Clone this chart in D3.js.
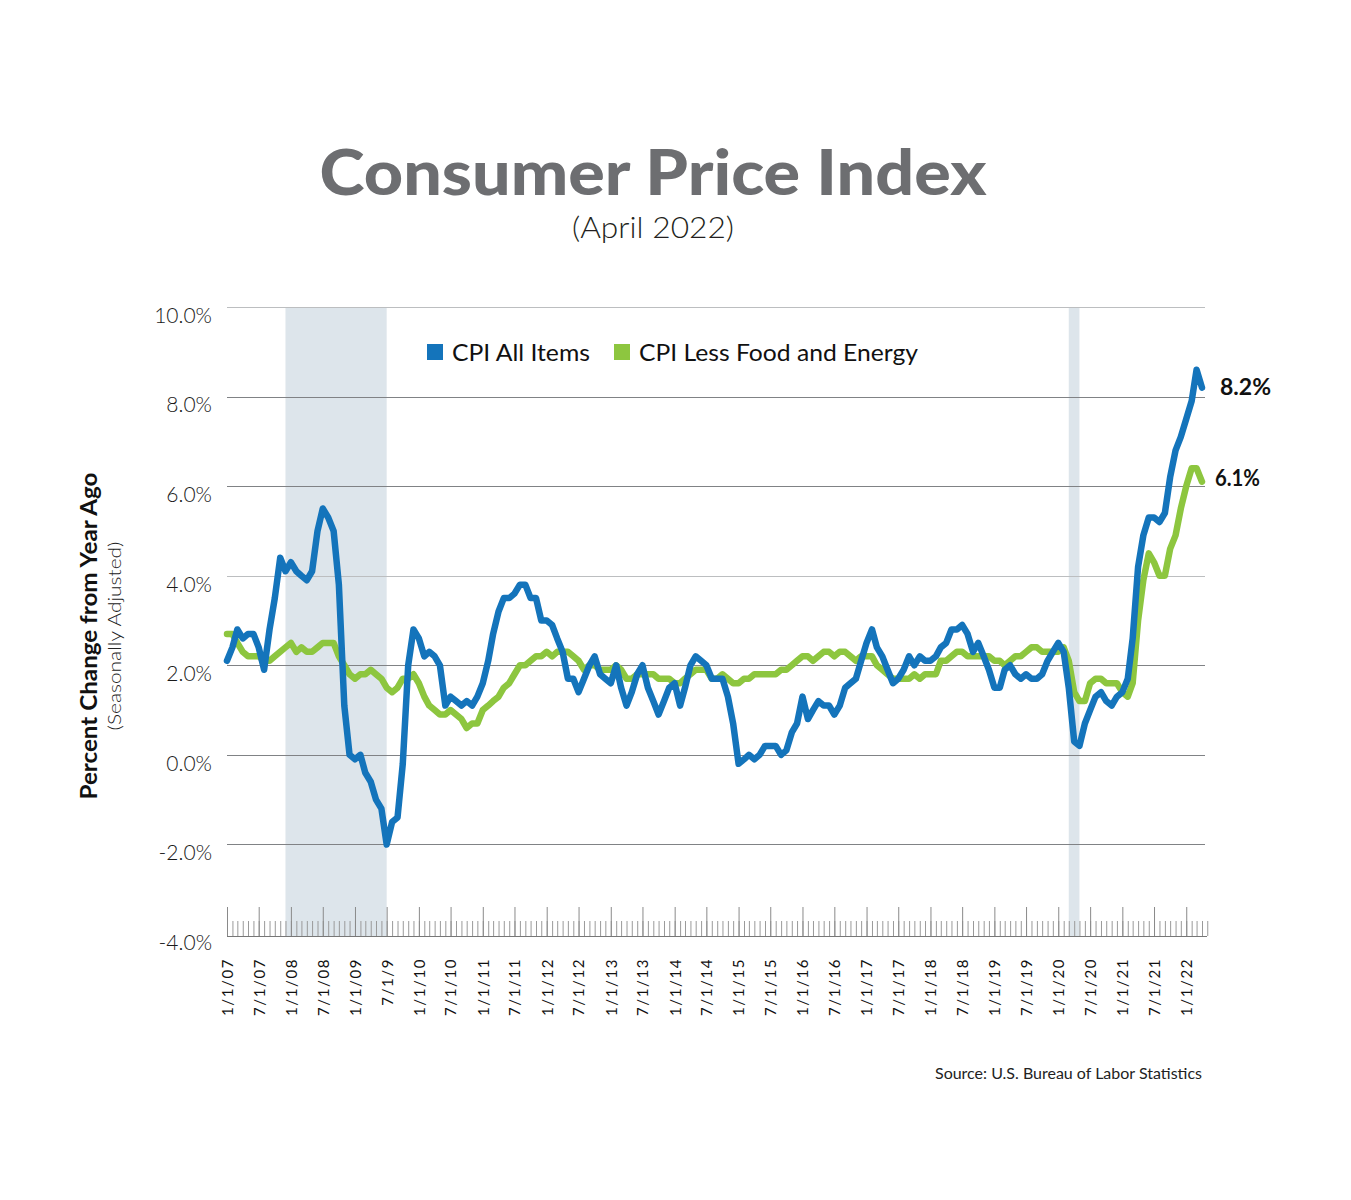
<!DOCTYPE html>
<html>
<head>
<meta charset="utf-8">
<script src="https://cdn.jsdelivr.net/npm/d3@7"></script>
<style>
  body { margin: 0; background: #fff; }
  svg { display: block; }
</style>
</head>
<body>
<svg id="chart" width="1351" height="1200"></svg>
<script>
// ---------- DATA ----------
const firstMonth = "2007-01-01";

// CPI All Items, % change from year ago (monthly, Jan 2007 - Apr 2022)
const cpiAllItems = [
  2.1, 2.4, 2.8, 2.6, 2.7, 2.7, 2.4, 1.9, 2.8, 3.5, 4.4, 4.1, // 2007
  4.3, 4.1, 4.0, 3.9, 4.1, 5.0, 5.5, 5.3, 5.0, 3.8, 1.1, 0.0, // 2008
  -0.1, 0.0, -0.4, -0.6, -1.0, -1.2, -2.0, -1.5, -1.4, -0.2, 2.0, 2.8, // 2009
  2.6, 2.2, 2.3, 2.2, 2.0, 1.1, 1.3, 1.2, 1.1, 1.2, 1.1, 1.3, // 2010
  1.6, 2.1, 2.7, 3.2, 3.5, 3.5, 3.6, 3.8, 3.8, 3.5, 3.5, 3.0, // 2011
  3.0, 2.9, 2.6, 2.3, 1.7, 1.7, 1.4, 1.7, 2.0, 2.2, 1.8, 1.7, // 2012
  1.6, 2.0, 1.5, 1.1, 1.4, 1.8, 2.0, 1.5, 1.2, 0.9, 1.2, 1.5, // 2013
  1.6, 1.1, 1.5, 2.0, 2.2, 2.1, 2.0, 1.7, 1.7, 1.7, 1.3, 0.7, // 2014
  -0.2, -0.1, 0.0, -0.1, 0.0, 0.2, 0.2, 0.2, 0.0, 0.1, 0.5, 0.7, // 2015
  1.3, 0.8, 1.0, 1.2, 1.1, 1.1, 0.9, 1.1, 1.5, 1.6, 1.7, 2.1, // 2016
  2.5, 2.8, 2.4, 2.2, 1.9, 1.6, 1.7, 1.9, 2.2, 2.0, 2.2, 2.1, // 2017
  2.1, 2.2, 2.4, 2.5, 2.8, 2.8, 2.9, 2.7, 2.3, 2.5, 2.2, 1.9, // 2018
  1.5, 1.5, 1.9, 2.0, 1.8, 1.7, 1.8, 1.7, 1.7, 1.8, 2.1, 2.3, // 2019
  2.5, 2.3, 1.5, 0.3, 0.2, 0.7, 1.0, 1.3, 1.4, 1.2, 1.1, 1.3, // 2020
  1.4, 1.7, 2.6, 4.2, 4.9, 5.3, 5.3, 5.2, 5.4, 6.2, 6.8, 7.1, // 2021
  7.5, 7.9, 8.6, 8.2                                          // 2022
];

// CPI Less Food and Energy, % change from year ago
const cpiCore = [
  2.7, 2.7, 2.5, 2.3, 2.2, 2.2, 2.2, 2.1, 2.1, 2.2, 2.3, 2.4, // 2007
  2.5, 2.3, 2.4, 2.3, 2.3, 2.4, 2.5, 2.5, 2.5, 2.2, 2.0, 1.8, // 2008
  1.7, 1.8, 1.8, 1.9, 1.8, 1.7, 1.5, 1.4, 1.5, 1.7, 1.7, 1.8, // 2009
  1.6, 1.3, 1.1, 1.0, 0.9, 0.9, 1.0, 0.9, 0.8, 0.6, 0.7, 0.7, // 2010
  1.0, 1.1, 1.2, 1.3, 1.5, 1.6, 1.8, 2.0, 2.0, 2.1, 2.2, 2.2, // 2011
  2.3, 2.2, 2.3, 2.3, 2.3, 2.2, 2.1, 1.9, 2.0, 2.0, 1.9, 1.9, // 2012
  1.9, 2.0, 1.9, 1.7, 1.7, 1.8, 1.8, 1.8, 1.8, 1.7, 1.7, 1.7, // 2013
  1.6, 1.6, 1.7, 1.8, 1.9, 1.9, 1.9, 1.7, 1.7, 1.8, 1.7, 1.6, // 2014
  1.6, 1.7, 1.7, 1.8, 1.8, 1.8, 1.8, 1.8, 1.9, 1.9, 2.0, 2.1, // 2015
  2.2, 2.2, 2.1, 2.2, 2.3, 2.3, 2.2, 2.3, 2.3, 2.2, 2.1, 2.2, // 2016
  2.2, 2.2, 2.0, 1.9, 1.8, 1.7, 1.7, 1.7, 1.7, 1.8, 1.7, 1.8, // 2017
  1.8, 1.8, 2.1, 2.1, 2.2, 2.3, 2.3, 2.2, 2.2, 2.2, 2.2, 2.2, // 2018
  2.1, 2.1, 2.0, 2.1, 2.2, 2.2, 2.3, 2.4, 2.4, 2.3, 2.3, 2.3, // 2019
  2.3, 2.4, 2.1, 1.4, 1.2, 1.2, 1.6, 1.7, 1.7, 1.6, 1.6, 1.6, // 2020
  1.4, 1.3, 1.6, 3.0, 3.9, 4.5, 4.3, 4.0, 4.0, 4.6, 4.9, 5.5, // 2021
  6.0, 6.4, 6.4, 6.1                                          // 2022
];

const seriesNames = ["CPI All Items", "CPI Less Food and Energy"];
const endLabels = ["8.2%", "6.1%"];

const yTicks = [-4, -2, 0, 2, 4, 6, 8, 10];

// tick labels every six months starting 1/1/07
const xTickLabels = [
  "1/1/07", "7/1/07", "1/1/08", "7/1/08", "1/1/09", "7/1/9",
  "1/1/10", "7/1/10", "1/1/11", "7/1/11", "1/1/12", "7/1/12",
  "1/1/13", "7/1/13", "1/1/14", "7/1/14", "1/1/15", "7/1/15",
  "1/1/16", "7/1/16", "1/1/17", "7/1/17", "1/1/18", "7/1/18",
  "1/1/19", "7/1/19", "1/1/20", "7/1/20", "1/1/21", "7/1/21", "1/1/22"
];

// recession periods (shaded)
const recessionStarts = ["2007-12-01", "2020-03-01"];
const recessionEnds   = ["2009-07-01", "2020-05-01"];

const titleText = "Consumer Price Index";
const subtitleText = "(April 2022)";
const yTitle = "Percent Change from Year Ago";
const ySubTitle = "(Seasonally Adjusted)";
const sourceText = "Source: U.S. Bureau of Labor Statistics";

// ---------- DRAW ----------
const svg = d3.select("#chart");
const BLUE = "#1474bb";
const GREEN = "#8dc63f";
const fontMain = "'Lato', 'Open Sans', sans-serif";

const parse = d3.utcParse("%Y-%m-%d");
const start = parse(firstMonth);
const monthDate = i => d3.utcMonth.offset(start, i);
const lastDate = monthDate(cpiAllItems.length - 1);

const x = d3.scaleUtc().domain([start, lastDate]).range([227, 1202]);
const y = d3.scaleLinear().domain([-4, 10]).range([934, 307]);

const plotLeft = 227, plotRight = 1206, axisY = 936;

// Recession shading
svg.append("g").selectAll("rect")
  .data(recessionStarts.map((s, i) => [parse(s), parse(recessionEnds[i])]))
  .join("rect")
  .attr("x", d => x(d[0]))
  .attr("width", d => x(d[1]) - x(d[0]))
  .attr("y", y(10))
  .attr("height", axisY - y(10))
  .attr("fill", "#dde5eb");

// Gridlines
svg.append("g").selectAll("line")
  .data(yTicks.filter(t => t > -4))
  .join("line")
  .attr("x1", plotLeft).attr("x2", plotRight - 1)
  .attr("y1", d => Math.round(y(d)) + 0.5).attr("y2", d => Math.round(y(d)) + 0.5)
  .attr("stroke", d => (d === 10 || d === 4) ? "#bcbec0" : "#808285")
  .attr("stroke-width", 1);

// Y axis labels
const yAxis = d3.axisLeft(y).tickValues(yTicks)
  .tickFormat(d => d.toFixed(1) + "%").tickSize(0).tickPadding(0);
const yg = svg.append("g").attr("transform", "translate(212,0)").call(yAxis);
yg.select(".domain").remove();
yg.selectAll("text")
  .attr("dy", "0.35em")
  .attr("y", 8)
  .attr("font-family", fontMain)
  .attr("font-weight", 300)
  .attr("font-size", 21)
  .attr("fill", "#1a1a1a");

// X axis - monthly minor ticks
const months = d3.range(0, cpiAllItems.length + 1).map(monthDate);
const minorAxis = d3.axisBottom(x).tickValues(months).tickFormat("")
  .tickSizeInner(-15).tickSizeOuter(0);
const mg = svg.append("g").attr("transform", `translate(0,${axisY})`).call(minorAxis);
mg.select(".domain").remove();
mg.selectAll(".tick line").attr("stroke", "#9a9a9a").attr("stroke-width", 1);

// X axis - six-month major ticks with labels
const majors = xTickLabels.map((_, i) => monthDate(i * 6));
const majorAxis = d3.axisBottom(x).tickValues(majors)
  .tickFormat((d, i) => xTickLabels[i])
  .tickSizeInner(-29).tickSizeOuter(0);
const xg = svg.append("g").attr("transform", `translate(0,${axisY})`).call(majorAxis);
xg.select(".domain").remove();
xg.selectAll(".tick line").attr("stroke", "#8a8a8a").attr("stroke-width", 1);
xg.selectAll(".tick text")
  .attr("transform", "rotate(-90)")
  .attr("text-anchor", "end")
  .attr("x", -22)
  .attr("y", 0)
  .attr("dy", "0.36em")
  .attr("font-family", fontMain)
  .attr("font-size", 15)
  .attr("letter-spacing", 1.6)
  .attr("fill", "#111");

// baseline
svg.append("line")
  .attr("x1", plotLeft).attr("x2", plotRight + 1)
  .attr("y1", axisY + 0.5).attr("y2", axisY + 0.5)
  .attr("stroke", "#777").attr("stroke-width", 1);

// Lines
const line = d3.line()
  .x((d, i) => x(monthDate(i)))
  .y(d => y(d));

svg.append("path").datum(cpiCore)
  .attr("d", line).attr("fill", "none")
  .attr("stroke", GREEN).attr("stroke-width", 6.5)
  .attr("stroke-linejoin", "round").attr("stroke-linecap", "round");

svg.append("path").datum(cpiAllItems)
  .attr("d", line).attr("fill", "none")
  .attr("stroke", BLUE).attr("stroke-width", 6.5)
  .attr("stroke-linejoin", "round").attr("stroke-linecap", "round");

// End labels
svg.append("text").attr("x", 1220).attr("y", 395)
  .attr("font-family", fontMain).attr("font-weight", 700).attr("font-size", 23)
  .attr("fill", "#111").attr("textLength", 51).attr("lengthAdjust", "spacingAndGlyphs")
  .text(endLabels[0]);
svg.append("text").attr("x", 1215).attr("y", 486)
  .attr("font-family", fontMain).attr("font-weight", 700).attr("font-size", 23)
  .attr("fill", "#111").attr("textLength", 45).attr("lengthAdjust", "spacingAndGlyphs")
  .text(endLabels[1]);

// Legend
const legendX = [427, 614];
const legendTextLen = [138, 279];
const legendColors = [BLUE, GREEN];
const lg = svg.append("g");
seriesNames.forEach((name, i) => {
  lg.append("rect").attr("x", legendX[i]).attr("y", 344).attr("width", 16).attr("height", 16)
    .attr("fill", legendColors[i]);
  lg.append("text").attr("x", legendX[i] + 25).attr("y", 361)
    .attr("font-family", fontMain).attr("font-size", 23).attr("fill", "#111")
    .attr("textLength", legendTextLen[i]).attr("lengthAdjust", "spacingAndGlyphs")
    .text(name);
});

// Title
svg.append("text").attr("x", 653).attr("y", 195)
  .attr("text-anchor", "middle")
  .attr("font-family", "'Lato', sans-serif").attr("font-weight", 900)
  .attr("font-size", 63).attr("fill", "#6d6e71")
  .attr("textLength", 667).attr("lengthAdjust", "spacingAndGlyphs")
  .text(titleText);

svg.append("text").attr("x", 653).attr("y", 238)
  .attr("text-anchor", "middle")
  .attr("font-family", fontMain).attr("font-weight", 300)
  .attr("font-size", 30).attr("fill", "#231f20")
  .attr("textLength", 162).attr("lengthAdjust", "spacingAndGlyphs")
  .text(subtitleText);

// Y title
svg.append("text").attr("transform", "translate(97,636) rotate(-90)")
  .attr("text-anchor", "middle")
  .attr("font-family", fontMain).attr("font-weight", 700)
  .attr("font-size", 23).attr("fill", "#111")
  .attr("textLength", 327).attr("lengthAdjust", "spacingAndGlyphs")
  .text(yTitle);
svg.append("text").attr("transform", "translate(121,636) rotate(-90)")
  .attr("text-anchor", "middle")
  .attr("font-family", fontMain).attr("font-weight", 300)
  .attr("font-size", 18).attr("fill", "#222")
  .attr("textLength", 189).attr("lengthAdjust", "spacingAndGlyphs")
  .text(ySubTitle);

// Source
svg.append("text").attr("x", 1202).attr("y", 1079)
  .attr("text-anchor", "end")
  .attr("font-family", fontMain).attr("font-size", 15.5).attr("fill", "#222")
  .attr("textLength", 267).attr("lengthAdjust", "spacingAndGlyphs")
  .text(sourceText);
</script>
</body>
</html>
